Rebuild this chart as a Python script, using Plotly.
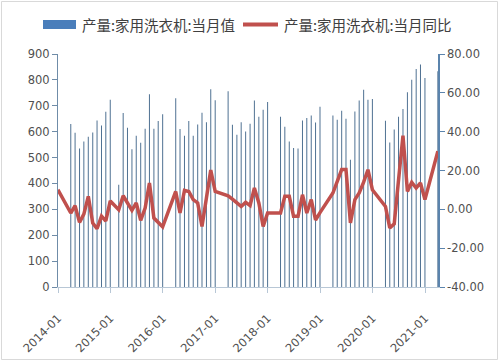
import pandas as pd
import plotly.graph_objects as go

# ---- data (month, production 万台, YoY %) ----
months = ["2013-12",
          "2014-03", "2014-04", "2014-05", "2014-06", "2014-07", "2014-08", "2014-09", "2014-10", "2014-11", "2014-12",
          "2015-02", "2015-03", "2015-04", "2015-05", "2015-06", "2015-07", "2015-08", "2015-09", "2015-10", "2015-11", "2015-12",
          "2016-03", "2016-04", "2016-05", "2016-06", "2016-07", "2016-08", "2016-09", "2016-10", "2016-11", "2016-12",
          "2017-03", "2017-04", "2017-05", "2017-06", "2017-07", "2017-08", "2017-09", "2017-10", "2017-11", "2017-12",
          "2018-03", "2018-04", "2018-05", "2018-06", "2018-07", "2018-08", "2018-09", "2018-10", "2018-11", "2018-12",
          "2019-03", "2019-04", "2019-05", "2019-06", "2019-07", "2019-08", "2019-09", "2019-10", "2019-11", "2019-12",
          "2020-03", "2020-04", "2020-05", "2020-06", "2020-07", "2020-08", "2020-09", "2020-10", "2020-11", "2020-12",
          "2021-03"]

production = [None,
              630, 596, 535, 562, 580, 597, 643, 624, 677, 723,
              395, 672, 615, 532, 584, 557, 611, 745, 611, 641, 667,
              729, 610, 584, 641, 584, 628, 673, 636, 764, 721,
              756, 627, 588, 636, 601, 631, 720, 658, 685, 715,
              658, 619, 562, 537, 535, 643, 653, 662, 635, 696,
              662, 646, 681, 650, 492, 678, 720, 762, 723, 726,
              642, 558, 608, 658, 688, 752, 801, 842, 859, 807,
              833]

yoy = [10.1,
       -1.9, 1.9, -6.7, -2.5, 6.7, -7.0, -10.0, -3.5, -6.0, 4.3,
       -0.2, 7.0, 3.3, -0.5, 3.3, -5.7, 0.7, 13.6, -4.5, -7.0, -9.0,
       9.2, -1.9, 9.8, 9.2, 5.0, 3.3, -8.8, 6.0, 20.2, 9.2,
       7.0, 5.3, 3.6, 1.5, 3.6, 1.9, 11.0, 3.3, -8.8, -1.9,
       -1.9, 6.7, 6.7, -3.6, -3.6, 7.5, -1.9, 5.0, -5.5, -1.7,
       8.4, 14.0, 20.5, 20.5, -7.0, 5.0, 8.4, 14.0, 20.4, 10.1,
       1.5, -9.6, -7.5, 15.0, 37.9, 9.2, 13.9, 11.0, 13.6, 5.0,
       29.9]

year_ticks = ["2014-01", "2015-01", "2016-01", "2017-01", "2018-01", "2019-01", "2020-01", "2021-01"]
y2_ticks = [-40, -20, 0, 20, 40, 60, 80]
y2_labels = ["-40.00", "-20.00", "0.00", "20.00", "40.00", "60.00", "80.00"]

name_bar = "产量:家用洗衣机:当月值"
name_line = "产量:家用洗衣机:当月同比"

# month-end dates
dates = [(pd.Period(m, freq="M").end_time.normalize()).strftime("%Y-%m-%d") for m in months]
tickvals = [m + "-01" for m in year_ticks]

BAR_COLOR = "rgba(78,112,146,0.99)"
LEG_BAR = "#4a7ebb"
LINE_COLOR = "#c0504d"
TXT = "#404040"
NUMFONT = dict(family="DejaVu Sans", size=11.5, color="#505050")
LEGFONT = dict(family="Noto Sans CJK SC", size=14.5, color=TXT)

# plot area in pixels: left 58, right 438, top 54, bottom 287
L, R, T, B = 58, 438, 54, 287
def px(xpix):
    return (xpix - L) / (R - L)
def py(ypix):
    return (B - ypix) / (B - T)

fig = go.Figure()
fig.add_trace(go.Bar(x=dates, y=production, name=name_bar, marker=dict(color=BAR_COLOR, line=dict(width=0)),
                     width=7 * 86400000))
fig.add_trace(go.Scatter(x=dates, y=yoy, mode="lines", name=name_line, yaxis="y2",
                         line=dict(color=LINE_COLOR, width=3.5)))

legend_y = 24.5
fig.update_layout(
    width=499, height=361,
    margin=dict(l=L, r=499 - R, t=T, b=361 - B),
    paper_bgcolor="white", plot_bgcolor="white",
    showlegend=False,
    xaxis=dict(type="date", range=["2014-01-01", "2021-04-01"], tickvals=tickvals, ticktext=year_ticks,
               tickangle=-45, showgrid=False, zeroline=False, showline=True, linecolor="#b8c7d6",
               ticks="outside", ticklen=5, tickcolor="#b8c7d6", tickfont=NUMFONT, ticklabelstandoff=14,
               automargin=False),
    yaxis=dict(range=[0, 900], dtick=100, showgrid=False, zeroline=False, showline=True,
               linecolor="#6f8ca8", ticks="outside", ticklen=5, tickcolor="#6f8ca8", tickfont=NUMFONT,
               automargin=False),
    yaxis2=dict(range=[-40, 80], tickvals=y2_ticks, ticktext=y2_labels, overlaying="y", side="right",
                showgrid=False, zeroline=False, showline=True, linecolor="#5b84ad", linewidth=1.5,
                ticks="outside", ticklen=5, tickcolor="#5b84ad", tickfont=NUMFONT, automargin=False),
    shapes=[
        dict(type="rect", xref="paper", yref="paper",
             x0=px(1.5), x1=px(497.5), y0=py(359.5), y1=py(1.5),
             line=dict(color="#d9d9d9", width=1), fillcolor="rgba(0,0,0,0)", layer="below"),
        # legend keys
        dict(type="rect", xref="paper", yref="paper",
             x0=px(43), x1=px(76), y0=py(legend_y + 4.5), y1=py(legend_y - 4.5),
             line=dict(width=0), fillcolor=LEG_BAR),
        dict(type="line", xref="paper", yref="paper",
             x0=px(243), x1=px(278), y0=py(legend_y), y1=py(legend_y),
             line=dict(color=LINE_COLOR, width=4)),
    ],
    annotations=[
        dict(text=name_bar, xref="paper", yref="paper", x=px(80), y=py(legend_y),
             xanchor="left", yanchor="middle", showarrow=False, font=LEGFONT),
        dict(text=name_line, xref="paper", yref="paper", x=px(282), y=py(legend_y),
             xanchor="left", yanchor="middle", showarrow=False, font=LEGFONT),
    ],
)

fig.write_html("out.html", config={"displayModeBar": False},
               post_script="document.body.style.margin='0px';")
